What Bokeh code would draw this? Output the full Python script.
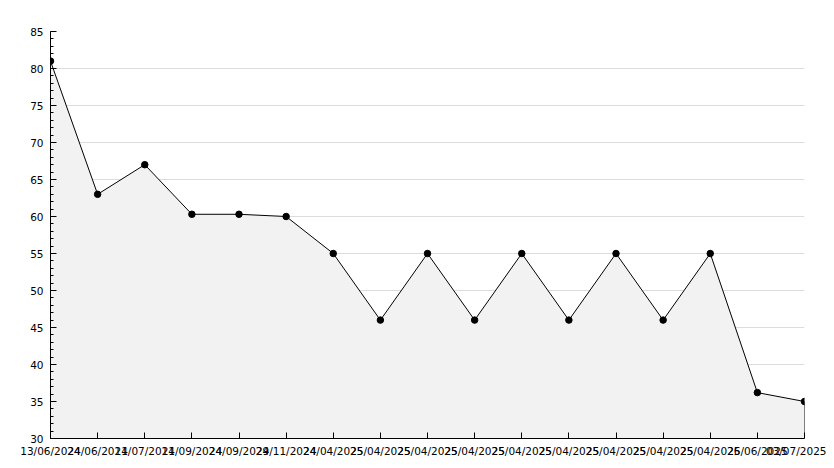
from bokeh.plotting import figure
from bokeh.models import Range1d, FixedTicker
from bokeh.embed import file_html
from bokeh.resources import INLINE

dates = ["13/06/2024", "24/06/2024", "11/07/2024", "11/09/2024", "24/09/2024",
         "29/11/2024", "24/04/2025", "25/04/2025", "25/04/2025", "25/04/2025",
         "25/04/2025", "25/04/2025", "25/04/2025", "25/04/2025", "25/04/2025",
         "26/06/2025", "03/07/2025"]
values = [81, 63, 67, 60.3, 60.3, 60, 55, 46, 55, 46, 55, 46, 55, 46, 55, 36.2, 35]
y_min, y_max = 30, 85
y_ticks = list(range(30, 86, 5))
y_minor = list(range(30, 86, 1))

xs = list(range(len(values)))

p = figure(width=826, height=460, output_backend="svg", toolbar_location=None,
           x_range=Range1d(xs[0], xs[-1]), y_range=Range1d(y_min, y_max),
           min_border_left=50, min_border_right=22, min_border_top=31, min_border_bottom=22)
p.outline_line_color = None
p.background_fill_color = "white"
p.border_fill_color = "white"

px = xs + [xs[-1], xs[0]]
py = values + [y_min, y_min]
p.patch(px, py, fill_color="#f2f2f2", line_color="black", line_width=1)
p.scatter(xs, values, marker="circle", size=6.5, fill_color="black", line_color="black")

p.xgrid.grid_line_color = None
p.ygrid.grid_line_color = "#dcdcdc"

p.xaxis.ticker = FixedTicker(ticks=xs)
p.xaxis.major_label_overrides = {i: d for i, d in enumerate(dates)}
p.yaxis.ticker = FixedTicker(ticks=y_ticks, minor_ticks=y_minor)

for ax in (p.xaxis[0], p.yaxis[0]):
    ax.axis_line_color = "black"
    ax.major_tick_line_color = "black"
    ax.minor_tick_line_color = "black"
    ax.major_tick_out = 0
    ax.major_tick_in = 6
    ax.minor_tick_out = 0
    ax.minor_tick_in = 3
    ax.major_label_text_font = "DejaVu Sans"
    ax.major_label_text_font_size = "10.5px"
    ax.major_label_text_color = "black"
p.xaxis.major_label_standoff = 6
p.yaxis.major_label_standoff = 7

open("out.html", "w").write(file_html(p, INLINE))
